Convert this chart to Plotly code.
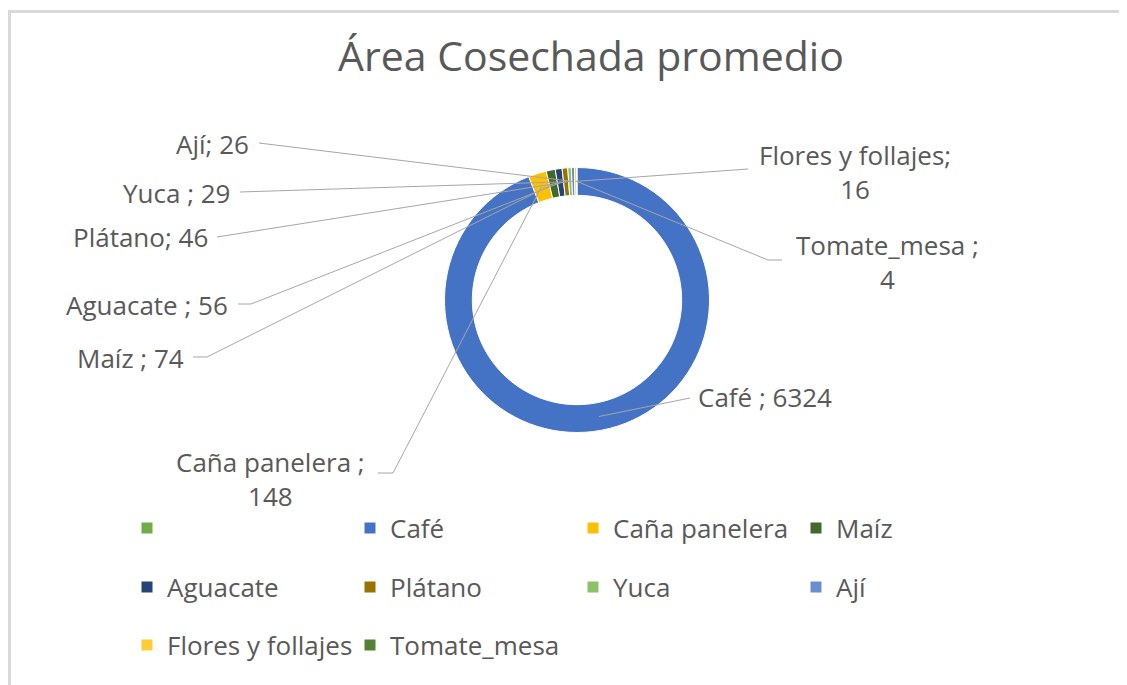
import math
import plotly.graph_objects as go

# ---------------- data ----------------
categories = ["", "Café ", "Caña panelera ", "Maíz ", "Aguacate ", "Plátano", "Yuca ", "Ají",
              "Flores y follajes", "Tomate_mesa "]
values = [0, 6324, 148, 74, 56, 46, 29, 26, 16, 4]
colors = ["#70AD47", "#4472C4", "#FFC000", "#43682B", "#264478", "#997300", "#8CC168", "#698ED0",
          "#FFCD33", "#548235"]
title_text = "Área Cosechada promedio"

# ---------------- layout constants (screen pixels) ----------------
OFF = 8                      # page body margin
W, H = 1127 - OFF, 685 - OFF  # figure size
CX, CY, R_OUT = 577, 300, 132.5
HOLE = 0.79
R_MID = R_OUT * (1 + HOLE) / 2
FONT = "'Open Sans', Lato, sans-serif"
TXT = "#595959"
LINE = "#A6A6A6"

# label placement: text anchor, alignment, wrap, and leader-line points near the label
label_layout = {
    "Café ":           dict(x=696, y=397, xa="left",   br=False, pts=[(690, 398)]),
    "Caña panelera ":  dict(x=270, y=479, xa="center", br=True,  pts=[(378, 473), (393, 473)]),
    "Maíz ":           dict(x=186, y=358, xa="right",  br=False, pts=[(193, 357), (207, 357)]),
    "Aguacate ":       dict(x=230, y=305, xa="right",  br=False, pts=[(238, 304), (251, 304)]),
    "Plátano":         dict(x=210, y=237, xa="right",  br=False, pts=[(217, 237)]),
    "Yuca ":           dict(x=232, y=193, xa="right",  br=False, pts=[(240, 192)]),
    "Ají":             dict(x=251, y=144, xa="right",  br=False, pts=[(259, 143)]),
    "Flores y follajes": dict(x=855, y=172, xa="center", br=True, pts=[(748, 169)]),
    "Tomate_mesa ":    dict(x=887, y=262, xa="center", br=True,  pts=[(782, 260), (768, 260)]),
}

fig = go.Figure()

fig.add_trace(go.Pie(
    labels=categories, values=values, sort=False, direction="clockwise", rotation=0,
    hole=HOLE, marker=dict(colors=colors, line=dict(color="white", width=1)),
    textinfo="none", showlegend=False, hoverinfo="label+value",
    domain=dict(x=[(CX - R_OUT - OFF) / W, (CX + R_OUT - OFF) / W],
                y=[(OFF + H - CY - R_OUT) / H, (OFF + H - CY + R_OUT) / H]),
))

# leader lines and labels computed from slice mid-angles
total = sum(values)
cum = 0.0
shapes = []
annotations = []
for cat, val in zip(categories, values):
    start = cum
    cum += val
    if cat not in label_layout or val <= 0:
        continue
    mid = (start + cum) / 2 / total * 2 * math.pi
    px = CX + R_MID * math.sin(mid)
    py = CY - R_MID * math.cos(mid)
    cfg = label_layout[cat]
    pts = cfg["pts"] + [(px, py)]
    path = "M " + " L ".join(f"{a:.1f},{b:.1f}" for a, b in pts)
    shapes.append(dict(type="path", path=path, xref="x", yref="y",
                       line=dict(color=LINE, width=1)))
    text = f"{cat};<br>{val}" if cfg["br"] else f"{cat}; {val}"
    annotations.append(dict(x=cfg["x"], y=cfg["y"], xref="x", yref="y", text=text,
                            showarrow=False, xanchor=cfg["xa"], yanchor="middle", align="center",
                            font=dict(family=FONT, size=26, color=TXT)))

annotations.append(dict(x=591, y=55, xref="x", yref="y", text=title_text, showarrow=False,
                        xanchor="center", yanchor="middle",
                        font=dict(family=FONT, size=41, color=TXT)))

# chart border (only top/left visible in the crop)
shapes.append(dict(type="rect", xref="x", yref="y", x0=9.5, y0=11.5, x1=OFF + W + 20, y1=OFF + H + 20,
                   line=dict(color="#D9D9D9", width=3), layer="below"))

# legend: three rows
rows = [categories[0:4], categories[4:8], categories[8:10]]
legend_names = ["legend", "legend2", "legend3"]
row_y = [528, 587, 645]
for ri, row in enumerate(rows):
    for cat in row:
        i = categories.index(cat)
        fig.add_trace(go.Scatter(
            x=[None], y=[None], mode="markers", name=cat if cat else " ",
            marker=dict(symbol="square", size=11, color=colors[i]),
            showlegend=True, legend=legend_names[ri], hoverinfo="skip"))

legend_common = dict(orientation="h", xanchor="left", yanchor="middle", x=(127 - OFF) / W,
                     entrywidth=178, entrywidthmode="pixels", bgcolor="rgba(0,0,0,0)",
                     font=dict(family=FONT, size=26, color=TXT), itemclick=False,
                     itemdoubleclick=False)
fig.update_layout(
    legend=dict(legend_common, y=1 - (row_y[0] - OFF) / H),
    legend2=dict(legend_common, y=1 - (row_y[1] - OFF) / H),
    legend3=dict(legend_common, y=1 - (row_y[2] - OFF) / H),
)

fig.update_layout(
    width=W, height=H, margin=dict(l=0, r=0, t=0, b=0),
    paper_bgcolor="white", plot_bgcolor="white",
    xaxis=dict(range=[OFF, OFF + W], visible=False, fixedrange=True, domain=[0, 1]),
    yaxis=dict(range=[OFF + H, OFF], visible=False, fixedrange=True, domain=[0, 1]),
    shapes=shapes, annotations=annotations,
)

fig.write_html("out.html")
